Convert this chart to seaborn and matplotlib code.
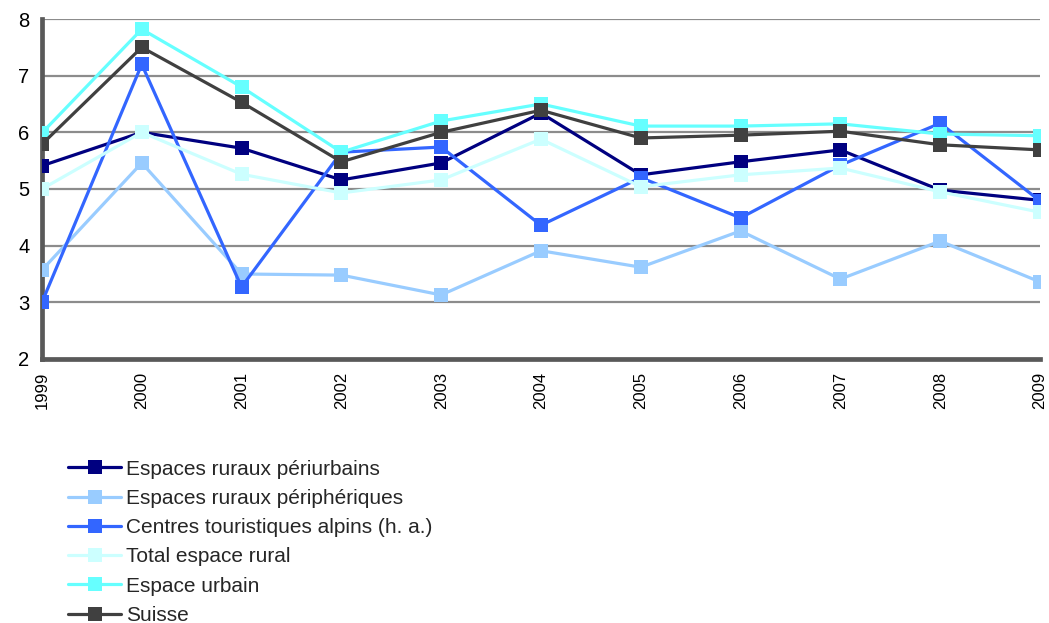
import matplotlib
matplotlib.use("Agg")
import matplotlib.pyplot as plt
import seaborn as sns
import pandas as pd

years = [1999, 2000, 2001, 2002, 2003, 2004, 2005, 2006, 2007, 2008, 2009]

periurbains = [5.41, 6.00, 5.72, 5.16, 5.46, 6.34, 5.25, 5.48, 5.69, 4.98, 4.80]
peripheriques = [3.57, 5.46, 3.50, 3.48, 3.13, 3.91, 3.62, 4.26, 3.41, 4.08, 3.36]
touristiques = [3.00, 7.20, 3.27, 5.65, 5.74, 4.36, 5.20, 4.49, 5.42, 6.16, 4.79]
total_rural = [5.00, 6.00, 5.26, 4.93, 5.16, 5.88, 5.04, 5.25, 5.37, 4.95, 4.59]
urbain = [5.99, 7.82, 6.80, 5.65, 6.20, 6.50, 6.11, 6.11, 6.15, 5.97, 5.94]
suisse = [5.79, 7.50, 6.53, 5.48, 6.00, 6.39, 5.90, 5.95, 6.02, 5.78, 5.69]

series_names = [
    "Espaces ruraux périurbains",
    "Espaces ruraux périphériques",
    "Centres touristiques alpins (h. a.)",
    "Total espace rural",
    "Espace urbain",
    "Suisse",
]
series_values = [periurbains, peripheriques, touristiques, total_rural, urbain, suisse]
colors = ["#000080", "#99CCFF", "#3366FF", "#CCFFFF", "#66FFFF", "#404040"]

rows = []
for name, vals in zip(series_names, series_values):
    for y, v in zip(years, vals):
        rows.append({"Année": y, "Valeur": v, "Série": name})
df = pd.DataFrame(rows)

sns.set_style("white")
plt.rcParams["font.family"] = ["Liberation Sans", "DejaVu Sans"]

fig = plt.figure(figsize=(10.49, 6.23), dpi=100)
ax = fig.add_axes([0.040, 0.4238, 0.9514, 0.5457])

sns.lineplot(
    data=df, x="Année", y="Valeur", hue="Série", hue_order=series_names,
    palette=dict(zip(series_names, colors)), style="Série", style_order=series_names,
    markers=["s"] * 6, dashes=False, markersize=10.5, linewidth=2.3,
    markeredgewidth=0, ax=ax, legend=True,
)

ax.set_xlim(1999, 2009)
ax.set_ylim(2, 8)
ax.set_yticks(range(2, 9))
ax.set_xticks(years)
ax.set_xticklabels([str(y) for y in years], rotation=90)
ax.set_xlabel("")
ax.set_ylabel("")
ax.tick_params(axis="both", length=0, colors="black")
ax.tick_params(axis="y", labelsize=14.5, pad=9)
ax.tick_params(axis="x", labelsize=12, pad=9)

ax.yaxis.grid(True, color="#8C8C8C", linewidth=1.6)
ax.set_axisbelow(True)
for s in ["top", "right"]:
    ax.spines[s].set_visible(False)
for s in ["left", "bottom"]:
    ax.spines[s].set_color("#595959")
    ax.spines[s].set_linewidth(3.4)
    ax.spines[s].set_zorder(1)

handles, labels = ax.get_legend_handles_labels()
ax.get_legend().remove()
fig.legend(
    handles, labels, loc="upper left", bbox_to_anchor=(0.0648, 0.262),
    frameon=False, fontsize=15, handlelength=2.55, handletextpad=0.25,
    labelspacing=0.49, borderaxespad=0, borderpad=0,
)

fig.savefig("out.png", dpi=100)
